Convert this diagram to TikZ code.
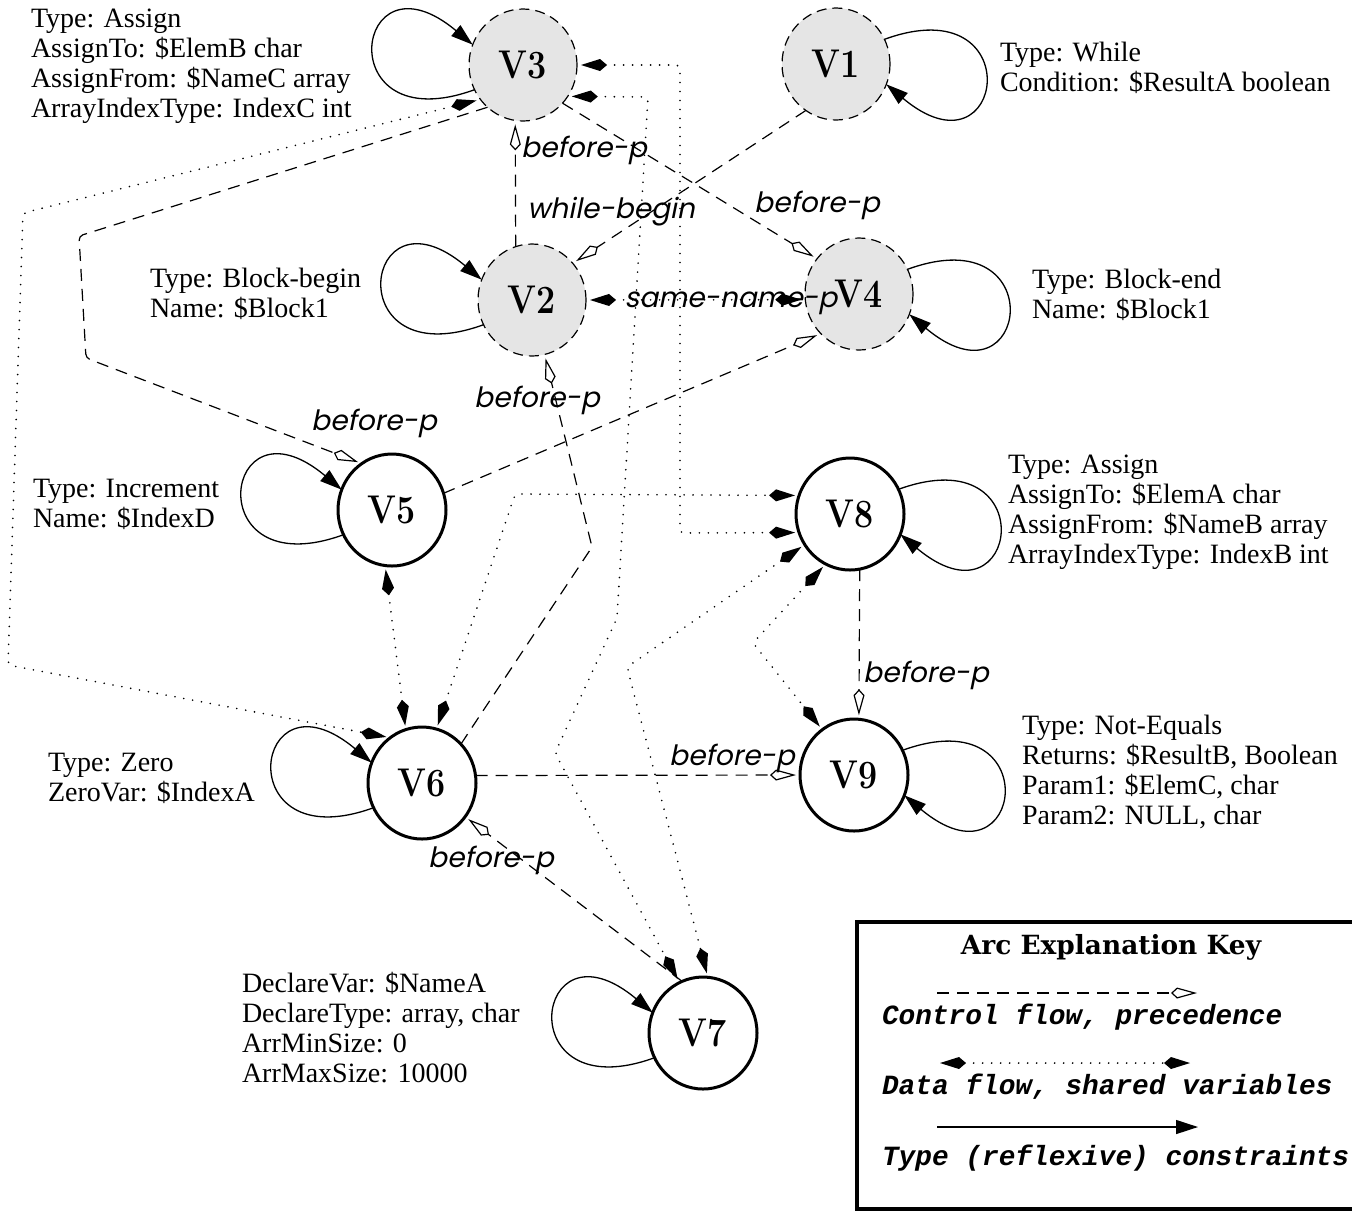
\documentclass[tikz,border=0pt]{standalone}
\usepackage{fontspec}
\usetikzlibrary{arrows.meta,shapes.geometric}
\newfontfamily\tmsfont{Liberation Serif}
\newfontfamily\lblfont{Poppins}[FakeSlant=0.2]
\newfontfamily\keyfont{Liberation Mono}
\newfontfamily\titlefont{DejaVu Serif}
\definecolor{nodegray}{gray}{0.9}
\newcommand{\vlab}[1]{\scalebox{1}[1.18]{\bfseries #1}}
\tikzset{
  every node/.style={inner sep=0pt, outer sep=0pt},
  vnode/.style={ellipse, minimum width=54pt, minimum height=56pt, font=\fontsize{17}{17}\selectfont\bfseries},
  graynode/.style={vnode, draw, fill=nodegray, line width=0.6pt, dash pattern=on 5pt off 3pt},
  solidnode/.style={vnode, draw, line width=1.5pt},
  ann/.style={font=\tmsfont\fontsize{14}{15}\selectfont, align=left, anchor=west},
  elbl/.style={font=\lblfont\fontsize{14}{14}\selectfont},
  keytxt/.style={font=\keyfont\bfseries\itshape\fontsize{13.9}{14}\selectfont, anchor=west},
  hollowtip/.tip={Kite[open,length=13pt,width=5.5pt,inset=3pt]},
  filledtip/.tip={Kite[length=13pt,width=6pt,inset=3.5pt]},
  looptip/.tip={Triangle[length=11pt,width=7pt]},
  cflow/.style={line width=0.6pt, dash pattern=on 6pt off 4pt, -hollowtip, shorten >=2pt, rounded corners=2pt},
  dflow/.style={line width=0.9pt, line cap=round, dash pattern=on 0pt off 4.5pt, filledtip-filledtip, shorten >=2pt, shorten <=2pt, rounded corners=2pt},
  tloop/.style={line width=0.65pt, -looptip},
}
\begin{document}
\begin{tikzpicture}[x=0.5pt,y=-0.5pt]
\useasboundingbox (0,0) rectangle (1352,1212);

% nodes
\node[graynode] (V3) at (523,65) {\vlab{V3}};
\node[graynode] (V1) at (836,64) {\vlab{V1}};
\node[graynode] (V2) at (532,300) {\vlab{V2}};
\node[graynode] (V4) at (859,294) {\vlab{V4}};
\node[solidnode] (V5) at (392,510) {\vlab{V5}};
\node[solidnode] (V8) at (850,514) {\vlab{V8}};
\node[solidnode] (V6) at (422,783) {\vlab{V6}};
\node[solidnode] (V9) at (854,775) {\vlab{V9}};
\node[solidnode] (V7) at (703,1033) {\vlab{V7}};

% annotations
\node[ann] (t3) at (31,66) {Type: Assign\\AssignTo: \$ElemB char\\AssignFrom: \$NameC array\\ArrayIndexType: IndexC int};
\node[ann] (t1) at (1000,68) {Type: While\\Condition: \$ResultA boolean};
\node[ann] (t2) at (150,294) {Type: Block-begin\\Name: \$Block1};
\node[ann] (t4) at (1032,295) {Type: Block-end\\Name: \$Block1};
\node[ann] (t5) at (33,504) {Type: Increment\\Name: \$IndexD};
\node[ann] (t8) at (1008,512) {Type: Assign\\AssignTo: \$ElemA char\\AssignFrom: \$NameB array\\ArrayIndexType: IndexB int};
\node[ann] (t9) at (1022,772) {Type: Not-Equals\\Returns: \$ResultB, Boolean\\Param1: \$ElemC, char\\Param2: NULL, char};
\node[ann] (t6) at (48,778) {Type: Zero\\ZeroVar: \$IndexA};
\node[ann] (t7) at (242,1028) {DeclareVar: \$NameA\\DeclareType: array, char\\ArrMinSize: 0\\ArrMaxSize: 10000};

% self loops
\foreach \n in {V3,V2,V5,V6,V7}{
  \draw[tloop] (\n.207) .. controls +(200:78pt) and +(140:78pt) .. (\n.158);
}
\foreach \n in {V1,V4,V8,V9}{
  \draw[tloop] (\n.27) .. controls +(20:78pt) and +(-40:78pt) .. (\n.-22);
}

% bend coordinates
\coordinate (b35a) at (79,236);
\coordinate (b35b) at (86,358);
\coordinate (b62) at (592,547);
\coordinate (b38a) at (680,65);
\coordinate (b38b) at (680,533);
\coordinate (b37a) at (648,97);
\coordinate (b37b) at (617,618);
\coordinate (b37c) at (555,753);
\coordinate (b87) at (627,667);
\coordinate (b89) at (753,643);
\coordinate (b68) at (515,494);
\coordinate (b36a) at (23,213);
\coordinate (b36b) at (8,665);

% control flow
\draw[cflow] (V2.107) -- (V3.262);
\draw[cflow] (V1.237) -- (V2.42);
\draw[cflow] (V3.316) -- (V4.140);
\draw[cflow] (V3.230) -- (b35a) -- (b35b) -- (V5.123);
\draw[cflow] (V5.18) -- (V4.226);
\draw[cflow] (V6.45) -- (b62) -- (V2.283);
\draw[cflow] (V8.280) -- (V9.85);
\draw[cflow] (V6.8) -- (V9.180);
\draw[cflow] (V7.112) -- (V6.322);

% data flow
\draw[dflow] (V3.0) -- (b38a) -- (b38b) -- (V8.200);
\draw[dflow] (V3.325) -- (b37a) -- (b37b) -- (b37c) -- (V7.115);
\draw[dflow] (V8.214) -- (b87) -- (V7.85);
\draw[dflow] (V8.244) -- (b89) -- (V9.125);
\draw[dflow] (V5.263) -- (V6.107);
\draw[dflow] (V6.75) -- (b68) -- (V8.160);
\draw[dflow] (V3.219) -- (b36a) -- (b36b) -- (V6.125);
\draw[dflow] (V2.0) -- (V4.186);

% edge labels
\node[elbl] (l1) at (584,150) {before-p};
\node[elbl] (l2) at (611,212) {while-begin};
\node[elbl] (l3) at (817,205) {before-p};
\node[elbl] (l4) at (731,303) {same-name-p};
\node[elbl] (l5) at (374,423) {before-p};
\node[elbl] (l6) at (537,400) {before-p};
\node[elbl] (l7) at (926,675) {before-p};
\node[elbl] (l8) at (732,758) {before-p};
\node[elbl] (l9) at (491,860) {before-p};

% key
\coordinate (kbr) at (1352,922);
\coordinate (kbl) at (857,922);
\coordinate (kbb) at (857,1209);
\coordinate (kbe) at (1352,1209);
\draw[line width=2pt] (kbr) -- (kbl) -- (kbb) -- (kbe);
\node (ktitle) at (1111,947) {\titlefont\bfseries\fontsize{13.2}{13.2}\selectfont Arc Explanation Key};
\coordinate (ka1) at (937,993); \coordinate (kb1) at (1197,993);
\coordinate (ka2) at (940,1063); \coordinate (kb2) at (1190,1063);
\coordinate (ka3) at (937,1127); \coordinate (kb3) at (1198,1127);
\draw[cflow, shorten >=0pt] (ka1) -- (kb1);
\draw[dflow, shorten >=0pt, shorten <=0pt] (ka2) -- (kb2);
\draw[tloop] (ka3) -- (kb3);
\node[keytxt] (kt1) at (882,1017) {Control flow, precedence};
\node[keytxt] (kt2) at (882,1087) {Data flow, shared variables};
\node[keytxt] (kt3) at (882,1158) {Type (reflexive) constraints};
\end{tikzpicture}
\end{document}
